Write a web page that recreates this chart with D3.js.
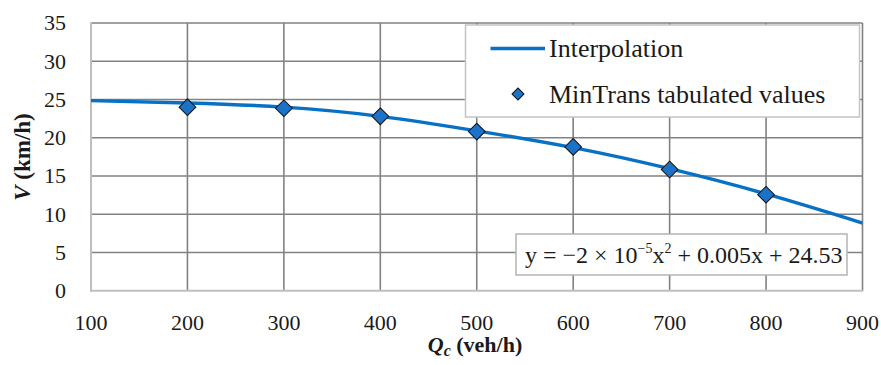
<!DOCTYPE html>
<html>
<head>
<meta charset="utf-8">
<script src="https://cdn.jsdelivr.net/npm/d3@7"></script>
<style>
  body { margin: 0; background: #fff; }
  text { font-family: 'Liberation Serif', serif; fill: #1a1a1a; }
</style>
</head>
<body>
<div id="chart"></div>
<script>
// flow values (veh/h) and speeds (km/h)
var tabQ = [200, 300, 400, 500, 600, 700, 800];
var tabV = [24.0, 23.85, 22.8, 20.8, 18.8, 15.85, 12.55];

var curveQ = [100, 200, 300, 400, 500, 600, 700, 800, 900];
var curveV = [24.85, 24.55, 24.0, 22.8, 20.9, 18.7, 15.95, 12.65, 8.85];

var xTicks = [100, 200, 300, 400, 500, 600, 700, 800, 900];
var yTicks = [0, 5, 10, 15, 20, 25, 30, 35];

var legendNames = ['Interpolation', 'MinTrans tabulated values'];
var equation = ['y = \u22122 \u00d7 10', '\u22125', 'x', '2', ' + 0.005x + 24.53'];

var w = 881, h = 365;
var plotLeft = 91, plotRight = 862.5, plotTop = 23, plotBottom = 290.7;

var svg = d3.select('#chart').append('svg')
  .attr('width', w)
  .attr('height', h);

var x = d3.scaleLinear().domain([100, 900]).range([plotLeft, plotRight]);
var y = d3.scaleLinear().domain([0, 35]).range([plotBottom, plotTop]);

/* Grid lines */

svg.append('g')
  .selectAll('line')
  .data(yTicks.slice(1))
  .enter()
  .append('line')
  .attr('x1', plotLeft)
  .attr('x2', plotRight)
  .attr('y1', function (d) { return y(d); })
  .attr('y2', function (d) { return y(d); })
  .style('stroke', '#828282')
  .style('stroke-width', 1.6);

svg.append('g')
  .selectAll('line')
  .data(xTicks.slice(1))
  .enter()
  .append('line')
  .attr('x1', function (d) { return x(d); })
  .attr('x2', function (d) { return x(d); })
  .attr('y1', plotTop)
  .attr('y2', plotBottom)
  .style('stroke', '#828282')
  .style('stroke-width', 1.6);

/* Axis lines */

svg.append('line')
  .attr('x1', plotLeft).attr('x2', plotLeft)
  .attr('y1', plotTop - 0.8).attr('y2', plotBottom + 1)
  .style('stroke', '#bfbfbf')
  .style('stroke-width', 2);

svg.append('line')
  .attr('x1', plotLeft - 1).attr('x2', plotRight + 0.8)
  .attr('y1', plotBottom).attr('y2', plotBottom)
  .style('stroke', '#bfbfbf')
  .style('stroke-width', 2);

/* Tick labels */

svg.append('g')
  .selectAll('text')
  .data(yTicks)
  .enter()
  .append('text')
  .text(function (d) { return d; })
  .attr('x', 66)
  .attr('y', function (d) { return y(d); })
  .attr('dy', '0.34em')
  .attr('text-anchor', 'end')
  .attr('font-size', '22px');

svg.append('g')
  .selectAll('text')
  .data(xTicks)
  .enter()
  .append('text')
  .text(function (d) { return d; })
  .attr('x', function (d) { return x(d); })
  .attr('y', 330)
  .attr('text-anchor', 'middle')
  .attr('font-size', '22px');

/* Interpolation curve */

var line = d3.line()
  .x(function (d, i) { return x(curveQ[i]); })
  .y(function (d) { return y(d); })
  .curve(d3.curveNatural);

svg.append('path')
  .datum(curveV)
  .attr('d', line)
  .style('fill', 'none')
  .style('stroke', '#0771c6')
  .style('stroke-width', 3.4);

/* Tabulated values */

var diamond = d3.symbol().type(d3.symbolSquare).size(140);

svg.append('g')
  .selectAll('path')
  .data(tabV)
  .enter()
  .append('path')
  .attr('d', diamond)
  .attr('transform', function (d, i) {
    return 'translate(' + x(tabQ[i]) + ',' + y(d) + ') rotate(45)';
  })
  .style('fill', '#1a72c9')
  .style('stroke', '#111')
  .style('stroke-width', 1);

/* Legend */

var legend = svg.append('g');

legend.append('rect')
  .attr('x', 465.5)
  .attr('y', 25)
  .attr('width', 394)
  .attr('height', 92)
  .style('fill', '#fff')
  .style('stroke', '#c4c4c4')
  .style('stroke-width', 1.5);

legend.append('line')
  .attr('x1', 490.5).attr('x2', 545)
  .attr('y1', 48.5).attr('y2', 48.5)
  .style('stroke', '#0771c6')
  .style('stroke-width', 3.4);

legend.append('path')
  .attr('d', d3.symbol().type(d3.symbolSquare).size(72))
  .attr('transform', 'translate(518,94) rotate(45)')
  .style('fill', '#1a72c9')
  .style('stroke', '#111')
  .style('stroke-width', 1);

legend.selectAll('text')
  .data(legendNames)
  .enter()
  .append('text')
  .text(function (d) { return d; })
  .attr('x', 549)
  .attr('y', function (d, i) { return 48.5 + i * 45.5; })
  .attr('dy', '0.33em')
  .attr('font-size', '26px');

/* Equation box */

svg.append('rect')
  .attr('x', 516)
  .attr('y', 234)
  .attr('width', 331)
  .attr('height', 41)
  .style('fill', '#fff')
  .style('stroke', '#b4b4b4')
  .style('stroke-width', 1.5);

var eq = svg.append('text')
  .attr('x', 525)
  .attr('y', 263)
  .attr('font-size', '24px');

eq.append('tspan').text(equation[0]);
eq.append('tspan').text(equation[1]).attr('font-size', '14px').attr('dy', -10);
eq.append('tspan').text(equation[2]).attr('dy', 10);
eq.append('tspan').text(equation[3]).attr('font-size', '14px').attr('dy', -10);
eq.append('tspan').text(equation[4]).attr('dy', 10);

/* Axis titles */

var xt = svg.append('text')
  .attr('x', 475)
  .attr('y', 352)
  .attr('text-anchor', 'middle')
  .attr('font-size', '22px')
  .attr('font-weight', 'bold');

xt.append('tspan').text('Q').attr('font-style', 'italic');
xt.append('tspan').text('c').attr('font-style', 'italic').attr('font-size', '16px').attr('dy', 4);
xt.append('tspan').text(' (veh/h)').attr('dy', -4);

var yt = svg.append('text')
  .attr('transform', 'translate(30,157) rotate(-90)')
  .attr('text-anchor', 'middle')
  .attr('font-size', '23px')
  .attr('font-weight', 'bold');

yt.append('tspan').text('V').attr('font-style', 'italic');
yt.append('tspan').text(' (km/h)');
</script>
</body>
</html>
